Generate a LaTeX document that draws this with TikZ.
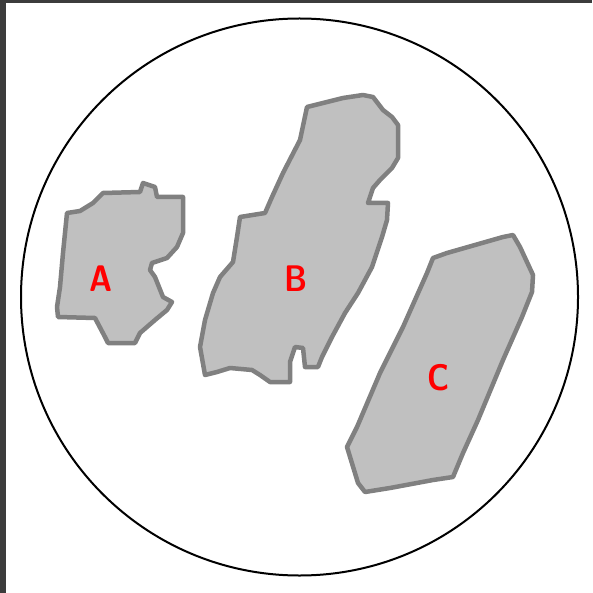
\documentclass[tikz,border=0pt]{standalone}
\usepackage{tikz}
\usetikzlibrary{positioning}
\definecolor{framegray}{HTML}{3C3C3C}
\definecolor{blobfill}{HTML}{C0C0C0}
\definecolor{blobedge}{HTML}{808080}
\tikzset{
  blob/.style={fill=blobfill, draw=blobedge, line width=4.5pt, line join=round},
  blobname/.style={text=red, font=\sffamily\bfseries\fontsize{37}{37}\selectfont, xscale=0.85, inner sep=0pt},
}

\begin{document}
\begin{tikzpicture}[x=1pt, y=-1pt]
    \useasboundingbox (0,0) rectangle (592,593);

    % window edge
    \fill[framegray] (0,0) rectangle (592,3);
    \fill[framegray] (0,0) rectangle (6,593);

    % dish
    \draw[line width=2pt] (299.5,297) circle[radius=278.5];

    % region A
    \draw[blob] (67,213) -- (80,211) -- (93,203) -- (103,193) -- (140,192) -- (143,183)
        -- (155,187) -- (157,197) -- (183,197) -- (183,233) -- (177,247) -- (167,258)
        -- (152,263) -- (150,270) -- (155,277) -- (163,297) -- (172,302) -- (167,310)
        -- (155,320) -- (140,333) -- (135,343) -- (108,343) -- (105,337) -- (95,318)
        -- (58,317) -- (57,307) -- (60,287) -- (63,253) -- cycle;

    % region B
    \draw[blob] (307,107) -- (323,103) -- (343,98) -- (363,95) -- (373,97) -- (383,110)
        -- (392,117) -- (398,125) -- (398,158) -- (392,168) -- (380,180) -- (373,188)
        -- (368,203) -- (388,203) -- (387,220) -- (382,237) -- (372,267) -- (358,293)
        -- (345,313) -- (332,337) -- (322,357) -- (318,367) -- (305,367) -- (303,348)
        -- (295,347) -- (290,362) -- (290,382) -- (270,382) -- (260,375) -- (252,370)
        -- (230,368) -- (217,372) -- (205,375) -- (200,347) -- (205,320) -- (213,293)
        -- (220,277) -- (233,262) -- (237,237) -- (240,217) -- (265,213) -- (272,197)
        -- (283,173) -- (300,140) -- cycle;

    % region C
    \draw[blob] (433,258) -- (447,253) -- (503,237) -- (513,235) -- (520,247) -- (533,275)
        -- (532,292) -- (522,317) -- (503,360) -- (478,420) -- (463,453) -- (453,477)
        -- (433,480) -- (390,488) -- (365,492) -- (358,483) -- (347,447) -- (357,427)
        -- (380,373) -- (403,327) -- (427,273) -- cycle;

    \node[blobname] (lblA) at (101.5,278.5) {A};
    \node[blobname] (lblB) at (296.5,278.5) {B};
    \node[blobname] (lblC) at (438.5,378) {C};

\end{tikzpicture}
\end{document}
